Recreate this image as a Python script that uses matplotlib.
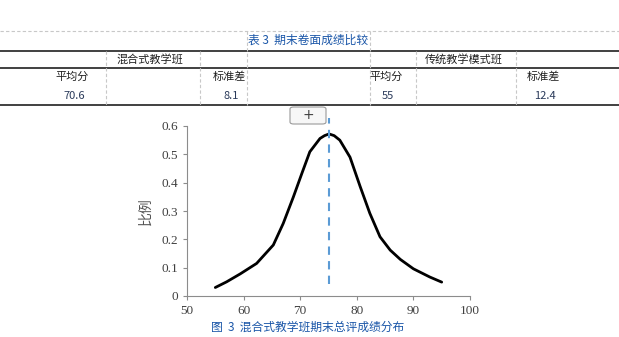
import numpy as np
import matplotlib
matplotlib.use("Agg")
import matplotlib.pyplot as plt
from matplotlib.lines import Line2D
from matplotlib.patches import FancyBboxPatch

plt.rcParams['font.family'] = ['Noto Sans CJK SC', 'DejaVu Sans']

# table data
table_title = "表 3  期末卷面成绩比较"
groups = ["混合式教学班", "传统教学模式班"]
stat_names = ["平均分", "标准差", "平均分", "标准差"]
stat_values = ["70.6", "8.1", "55", "12.4"]

# curve data
score = [55, 57, 59.4, 62.3, 65.25, 67, 68.8, 70.3, 71.7, 73.5, 74.3, 75.1,
         76, 77, 78.8, 80.6, 82.3, 84.1, 85.9, 87.7, 90, 92.9, 95]
ratio = [0.03, 0.05, 0.078, 0.115, 0.18, 0.256, 0.35, 0.433, 0.509, 0.556, 0.566, 0.572,
         0.566, 0.55, 0.49, 0.386, 0.292, 0.209, 0.162, 0.129, 0.096, 0.067, 0.049]
mean_line = 75

W, H = 619, 337
fig = plt.figure(figsize=(W / 100, H / 100), dpi=100)


def px(x, y):
    return x / W, 1 - y / H


def hline(y, x0=0, x1=W, **kw):
    a, b = px(x0, y)
    c, d = px(x1, y)
    fig.add_artist(Line2D([a, c], [b, d], transform=fig.transFigure, **kw))


def vline(x, y0, y1, **kw):
    a, b = px(x, y0)
    c, d = px(x, y1)
    fig.add_artist(Line2D([a, c], [b, d], transform=fig.transFigure, **kw))


def text(x, y, s, **kw):
    a, b = px(x, y)
    fig.text(a, b, s, ha='center', va='center', **kw)


dash = dict(color='#c8c8c8', lw=0.8, ls=(0, (3, 2)))
solid = dict(color='#202020', lw=1.2)

hline(30.5, **dash)
hline(50.5, **solid)
hline(68, **solid)
hline(105, **solid)
for x in [247, 370]:
    vline(x, 30.5, 105, **dash)
for x in [106, 200, 416, 516]:
    vline(x, 50.5, 105, **dash)

blue = '#1a56a8'
text(308, 40.5, table_title, fontsize=8.5, color=blue)
text(150, 59.5, groups[0], fontsize=8, color='#202020')
text(464, 59.5, groups[1], fontsize=8, color='#202020')
for x, name, val in zip([72, 229, 386, 543], stat_names, stat_values):
    text(x, 77, name, fontsize=8, color='#202020')
    text(x + 2, 96.5, val, fontsize=8, color='#2a3a5a')

# chart
l, b = px(187, 296)
r, t = px(470, 126)
ax = fig.add_axes([l, b, r - l, t - b])
ax.plot(score, ratio, color='black', lw=2, solid_joinstyle='round', solid_capstyle='round')
ax.plot([mean_line, mean_line], [0.044, 0.63], color='#5b9bd5', lw=1.5,
        ls=(0, (4, 3)), clip_on=False)
ax.set_xlim(50, 100)
ax.set_ylim(0, 0.6)
ax.set_xticks(np.arange(50, 101, 10))
ax.set_yticks(np.arange(0, 0.61, 0.1))
ax.set_yticklabels(['0', '0.1', '0.2', '0.3', '0.4', '0.5', '0.6'])
for s in ['top', 'right']:
    ax.spines[s].set_visible(False)
for s in ['left', 'bottom']:
    ax.spines[s].set_color('#8c8c8c')
    ax.spines[s].set_linewidth(0.8)
ax.tick_params(colors='#8c8c8c', length=3, width=0.8, labelcolor='#404040',
               labelsize=9.5)
for lab in ax.get_xticklabels() + ax.get_yticklabels():
    lab.set_fontfamily('Liberation Serif')
ax.set_ylabel('比例', fontsize=10, color='#555555', labelpad=6)

# the little "+" button over the chart
a, bb = px(290, 124)
c, d = px(326, 107)
fig.add_artist(FancyBboxPatch((a, bb), c - a, d - bb, boxstyle='round,pad=0,rounding_size=0.006',
                              transform=fig.transFigure, facecolor='#f7f7f7',
                              edgecolor='#9a9a9a', lw=0.8, zorder=5))
text(308, 115, '+', fontsize=10, color='#404040', zorder=6, family='DejaVu Sans')

text(308, 327, "图  3  混合式教学班期末总评成绩分布", fontsize=8.5, color=blue)

fig.savefig('out.png', dpi=100)
